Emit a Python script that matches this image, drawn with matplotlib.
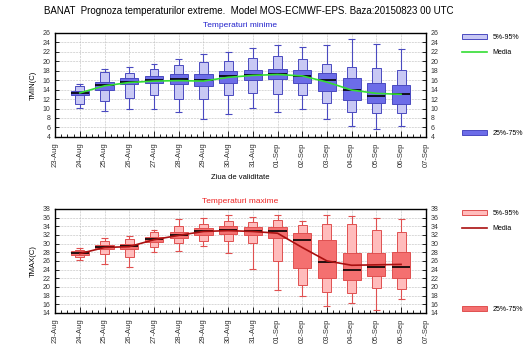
import numpy as np
import matplotlib.pyplot as plt
from matplotlib.patches import Patch
from matplotlib.lines import Line2D

plt.rcParams['font.family'] = ['Liberation Sans', 'DejaVu Sans']

day_labels = ["23-Aug", "24-Aug", "25-Aug", "26-Aug", "27-Aug", "28-Aug", "29-Aug", "30-Aug",
              "31-Aug", "01-Sep", "02-Sep", "03-Sep", "04-Sep", "05-Sep", "06-Sep", "07-Sep"]
box_days = np.arange(1, 15)  # 24-Aug .. 06-Sep

# minimum temperatures
tmin_lo = [10.1, 9.4, 10.0, 9.8, 9.3, 7.7, 8.8, 10.1, 9.2, 10.0, 7.7, 6.2, 5.7, 6.2]
tmin_p05 = [11.0, 11.6, 12.3, 12.8, 12.0, 12.1, 12.8, 13.2, 13.0, 12.8, 11.2, 9.3, 9.1, 9.0]
tmin_p25 = [12.8, 14.0, 15.1, 15.4, 15.1, 14.8, 15.5, 16.0, 16.2, 15.5, 13.8, 11.8, 11.2, 11.0]
tmin_med = [13.2, 15.0, 15.7, 16.0, 16.2, 16.0, 16.8, 17.0, 17.2, 16.8, 16.1, 14.0, 12.6, 13.0]
tmin_p75 = [13.8, 15.7, 16.4, 16.8, 17.2, 17.2, 17.9, 18.2, 18.4, 18.2, 17.6, 16.4, 15.3, 15.0]
tmin_p95 = [14.8, 17.8, 17.6, 18.3, 19.2, 19.8, 20.1, 20.6, 21.2, 20.4, 19.5, 18.8, 18.5, 18.1]
tmin_hi = [15.2, 18.4, 18.8, 19.4, 20.4, 21.5, 21.9, 22.8, 23.5, 23.0, 23.5, 24.8, 23.6, 22.6]
tmin_mean = [13.3, 14.8, 15.5, 15.8, 15.9, 15.8, 16.6, 17.0, 17.2, 16.9, 15.6, 13.9, 13.2, 13.0]

# maximum temperatures
tmax_lo = [26.2, 25.3, 24.6, 28.1, 28.2, 29.4, 27.8, 24.2, 19.3, 17.8, 15.5, 16.3, 14.6, 17.2]
tmax_p05 = [26.8, 27.5, 26.8, 29.3, 30.1, 30.7, 30.6, 30.2, 26.0, 20.5, 18.8, 18.7, 19.8, 19.5]
tmax_p25 = [27.3, 28.7, 28.8, 30.3, 31.2, 32.0, 32.2, 32.1, 31.3, 24.4, 22.1, 21.7, 22.5, 22.1]
tmax_med = [27.8, 29.1, 29.4, 31.0, 32.0, 32.9, 33.1, 32.9, 32.8, 30.8, 25.8, 24.0, 24.5, 24.5]
tmax_p75 = [28.2, 29.7, 30.0, 31.6, 32.7, 33.7, 34.0, 33.9, 33.8, 32.5, 30.8, 27.8, 27.8, 28.0]
tmax_p95 = [28.6, 30.6, 31.0, 32.6, 34.0, 34.6, 35.2, 35.1, 35.4, 34.3, 34.6, 34.5, 33.1, 32.7]
tmax_hi = [29.0, 31.2, 31.7, 33.2, 35.6, 35.9, 36.5, 36.1, 36.6, 35.3, 36.6, 36.3, 35.9, 35.6]
tmax_mean = [27.7, 29.1, 29.3, 30.9, 31.9, 32.8, 33.0, 32.8, 32.4, 29.1, 26.0, 25.0, 25.1, 25.2]


def draw_panel(ax, lo, p05, p25, med, p75, p95, hi, mean,
               light, edge, dark, line_col, ylim, ylabel, title, title_col):
    lo, p05, p25, med = map(np.array, (lo, p05, p25, med))
    p75, p95, hi = map(np.array, (p75, p95, hi))
    ax.vlines(box_days, lo, hi, color=edge, lw=0.8, zorder=2)
    ax.hlines(lo, box_days - 0.14, box_days + 0.14, color=edge, lw=0.8, zorder=2)
    ax.hlines(hi, box_days - 0.14, box_days + 0.14, color=edge, lw=0.8, zorder=2)
    ax.bar(box_days, p95 - p05, bottom=p05, width=0.36, color=light,
           edgecolor=edge, lw=0.7, zorder=3)
    ax.bar(box_days, p75 - p25, bottom=p25, width=0.74, color=dark,
           edgecolor=edge, lw=0.7, zorder=4)
    ax.hlines(med, box_days - 0.37, box_days + 0.37, color='black', lw=1.2, zorder=5)
    ax.plot(box_days, mean, color=line_col, lw=1.2, zorder=6)

    ax.set_xlim(0, 15)
    ax.set_ylim(*ylim)
    ax.set_xticks(np.arange(16))
    ax.set_xticks(np.arange(0, 15.01, 0.25), minor=True)
    ax.set_xticklabels(day_labels, rotation=90, fontsize=5.5)
    ax.set_yticks(np.arange(ylim[0], ylim[1] + 1, 2))
    ax.tick_params(axis='y', which='both', direction='in', right=True,
                   labelright=True, labelsize=5, length=3, width=0.6,
                   labelcolor='#333333')
    ax.tick_params(axis='x', which='major', direction='in', length=4,
                   width=0.6, labelsize=5.5, labelcolor='#333333', pad=4)
    ax.tick_params(axis='x', which='minor', direction='in', length=2, width=0.6)
    ax.grid(True, which='major', color='#bbbbbb', ls='--', lw=0.4)
    ax.set_axisbelow(True)
    ax.set_ylabel(ylabel, fontsize=5.5)
    ax.set_title(title, color=title_col, fontsize=6, pad=4)
    for s in ax.spines.values():
        s.set_linewidth(1.0)

    lg1 = ax.legend([Patch(facecolor=light, edgecolor=edge, lw=0.7),
                     Line2D([], [], color=line_col, lw=1.2)],
                    ["5%-95%", "Media"], loc='upper left',
                    bbox_to_anchor=(1.08, 1.05), frameon=False, fontsize=5,
                    handlelength=3.6, handleheight=0.6, labelspacing=1.2)
    ax.add_artist(lg1)
    ax.legend([Patch(facecolor=dark, edgecolor=edge, lw=0.7)], ["25%-75%"],
              loc='lower left', bbox_to_anchor=(1.08, -0.06), frameon=False,
              fontsize=5, handlelength=3.6, handleheight=0.6)


fig = plt.figure(figsize=(5.25, 3.5), dpi=100)
ax1 = fig.add_axes([0.105, 0.609, 0.706, 0.297])
ax2 = fig.add_axes([0.105, 0.106, 0.706, 0.297])

draw_panel(ax1, tmin_lo, tmin_p05, tmin_p25, tmin_med, tmin_p75, tmin_p95, tmin_hi,
           tmin_mean, '#c8c8f4', '#4a4ac0', '#6c6ce8', '#33dd33', (4, 26),
           "TMIN(C)", "Temperaturi minime", '#2222cc')
draw_panel(ax2, tmax_lo, tmax_p05, tmax_p25, tmax_med, tmax_p75, tmax_p95, tmax_hi,
           tmax_mean, '#ffbcbc', '#e05050', '#f47070', '#aa1010', (14, 38),
           "TMAX(C)", "Temperaturi maxime", '#ee2222')
ax1.set_xlabel("Ziua de validitate", fontsize=5.5, labelpad=5)

fig.text(0.473, 0.968, "BANAT  Prognoza temperaturilor extreme.  Model MOS-ECMWF-EPS. Baza:20150823 00 UTC",
         ha='center', va='center', fontsize=7)

fig.savefig("out.png", dpi=100)
